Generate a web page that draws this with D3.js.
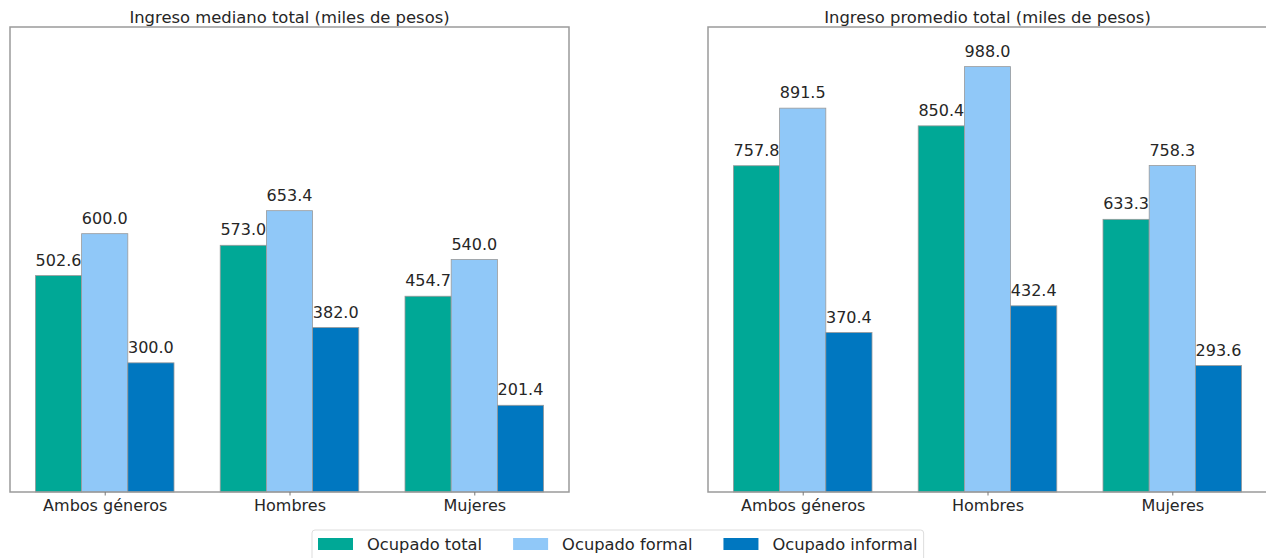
<!DOCTYPE html>
<html>
<head>
<meta charset="utf-8">
<script src="https://cdn.jsdelivr.net/npm/d3@7"></script>
<style>
  html, body { margin: 0; padding: 0; background: #fff; }
  svg { display: block; font-family: "DejaVu Sans", sans-serif; }
</style>
</head>
<body>
<svg id="chart" width="1266" height="558"></svg>
<script>
const categories = ["Ambos géneros", "Hombres", "Mujeres"];
const seriesNames = ["Ocupado total", "Ocupado formal", "Ocupado informal"];
const seriesColors = ["#00a896", "#90c8f8", "#0077c0"];
const panelTitles = ["Ingreso mediano total (miles de pesos)", "Ingreso promedio total (miles de pesos)"];
const medianValues = [
  [502.6, 573.0, 454.7],
  [600.0, 653.4, 540.0],
  [300.0, 382.0, 201.4]
];
const meanValues = [
  [757.8, 850.4, 633.3],
  [891.5, 988.0, 758.3],
  [370.4, 432.4, 293.6]
];
const panelValues = [medianValues, meanValues];

(function () {
const svg = d3.select("#chart");
const panelLeft = [10, 708];
const panelW = 559;
const plotTop = 27, plotBottom = 492;
const barW = 0.25;

const y = d3.scaleLinear().domain([0, 1080]).range([plotBottom, plotTop]);

panelValues.forEach((vals, p) => {
  const g = svg.append("g").attr("transform", `translate(${panelLeft[p]},0)`);
  const x = d3.scaleLinear().domain([-0.5125, 2.5125]).range([0, panelW]);

  vals.forEach((series, s) => {
    series.forEach((v, i) => {
      const cx = i + (s - 1) * barW;
      g.append("rect")
        .attr("x", x(cx - barW / 2))
        .attr("width", x(cx + barW / 2) - x(cx - barW / 2))
        .attr("y", y(v))
        .attr("height", y(0) - y(v))
        .attr("fill", seriesColors[s])
        .attr("stroke", "#9a9a9a")
        .attr("stroke-width", 0.8);
      g.append("text")
        .attr("x", x(cx))
        .attr("y", y(v) - 10)
        .attr("text-anchor", "middle")
        .attr("font-size", 16)
        .attr("fill", "#262626")
        .text(v.toFixed(1));
    });
  });

  g.append("rect")
    .attr("x", 0).attr("y", plotTop)
    .attr("width", panelW).attr("height", plotBottom - plotTop)
    .attr("fill", "none")
    .attr("stroke", "#9a9a9a")
    .attr("stroke-width", 1.5);

  const axis = d3.axisBottom(x)
    .tickValues([0, 1, 2])
    .tickFormat(i => categories[i])
    .tickSize(3.5)
    .tickPadding(4);
  const ax = g.append("g").attr("transform", `translate(0,${plotBottom})`).call(axis);
  ax.select(".domain").remove();
  ax.selectAll(".tick line").attr("stroke", "#777");
  ax.selectAll(".tick text")
    .attr("font-size", 16)
    .attr("font-family", "DejaVu Sans, sans-serif")
    .attr("fill", "#262626");

  g.append("text")
    .attr("x", panelW / 2)
    .attr("y", 22.5)
    .attr("text-anchor", "middle")
    .attr("font-size", 16.4)
    .attr("fill", "#262626")
    .text(panelTitles[p]);
});

const legend = svg.append("g");
const legBox = legend.append("rect")
  .attr("y", 530).attr("height", 40)
  .attr("rx", 3)
  .attr("fill", "#fff")
  .attr("stroke", "#dddddd")
  .attr("stroke-width", 1);
let lx = 318;
seriesNames.forEach((name, s) => {
  legend.append("rect")
    .attr("x", lx).attr("y", 538)
    .attr("width", 35).attr("height", 12)
    .attr("fill", seriesColors[s]);
  const t = legend.append("text")
    .attr("x", lx + 49).attr("y", 550)
    .attr("font-size", 16.3)
    .attr("fill", "#262626")
    .text(name);
  const w = t.node().getComputedTextLength();
  lx = lx + 49 + w + (s < seriesNames.length - 1 ? 31 : 6);
});
legBox.attr("x", 312).attr("width", lx - 312);
})();
</script>
</body>
</html>
